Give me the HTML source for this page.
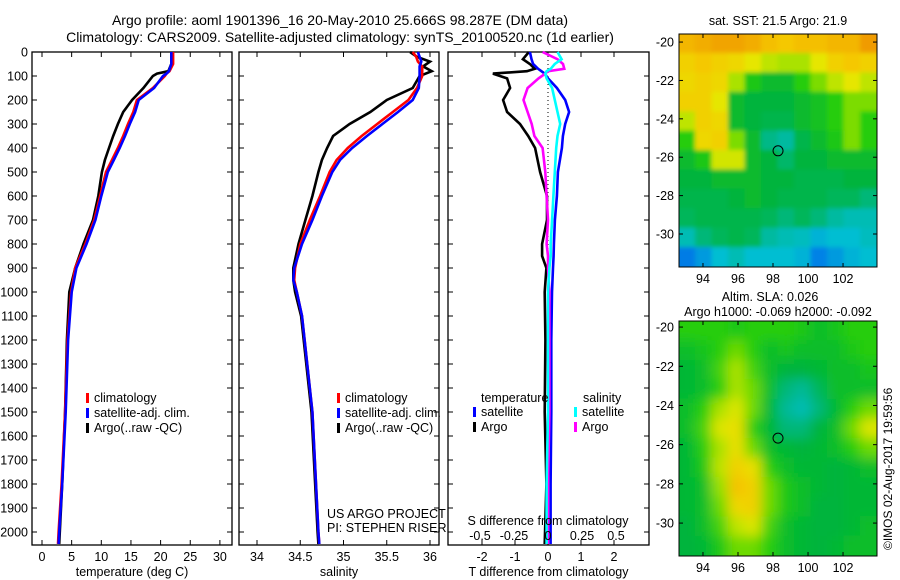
<!DOCTYPE html>
<html><head><meta charset="utf-8"><style>
html,body{margin:0;padding:0;background:#fff;}
svg{display:block;font-family:"Liberation Sans",Arial,sans-serif;}
</style></head><body>
<svg id="fig" width="900" height="580" viewBox="0 0 900 580" xmlns="http://www.w3.org/2000/svg">
<defs>
<filter id="blur" filterUnits="userSpaceOnUse" x="600" y="250" width="300" height="330"><feGaussianBlur stdDeviation="6"/></filter>
<filter id="blur2" filterUnits="userSpaceOnUse" x="600" y="0" width="300" height="300"><feGaussianBlur stdDeviation="2"/></filter>
<clipPath id="c1"><rect x="679" y="34" width="198" height="233"/></clipPath>
<clipPath id="c2"><rect x="679" y="321" width="198" height="235"/></clipPath>
</defs>
<text x="340" y="25" font-size="14" text-anchor="middle">Argo profile: aoml 1901396_16 20-May-2010 25.666S 98.287E (DM data)</text>
<text x="340" y="42" font-size="14" text-anchor="middle">Climatology: CARS2009. Satellite-adjusted climatology: synTS_20100520.nc (1d earlier)</text>
<g id="g1"></g>
<g id="g2"></g>
<g id="g3"></g>
<g id="g4"></g>
<g id="g5"></g>
<text transform="translate(892,550) rotate(-90)" font-size="12">©IMOS 02-Aug-2017 19:59:56</text>
</svg>
<script>
// ---- profile data ----
const tDepth = [0,50,80,90,100,150,200,250,300,350,400,450,500,600,700,800,900,1000,1100,1200,1500,1800,2000,2050];
const tClim  = [22.1,22.1,21.5,21.0,20.7,18.7,16.0,15.4,14.5,13.7,12.8,11.8,10.8,9.8,8.8,7.3,5.6,4.9,4.6,4.3,3.9,3.3,2.8,2.7];
const tSat   = [21.8,21.8,21.4,21.0,20.4,18.9,16.3,15.7,14.8,14.0,13.1,12.1,11.1,10.0,9.0,7.5,5.8,5.0,4.7,4.4,4.0,3.4,2.9,2.8];
const tArgo  = [21.8,21.8,21.3,19.4,18.7,17.1,15.2,13.7,12.8,12.0,11.3,10.6,10.1,9.5,8.6,7.0,5.6,4.6,4.4,4.2,3.9,3.4,3.0,2.9];
const sDepth = [0,20,40,60,80,100,150,200,250,300,350,400,450,500,600,700,800,900,950,1000,1100,1500,2000,2050];
const sClim  = [35.80,35.84,35.86,35.91,35.91,35.91,35.85,35.75,35.57,35.39,35.21,35.05,34.92,34.84,34.73,34.61,34.50,34.44,34.43,34.46,34.52,34.64,34.71,34.72];
const sSat   = [35.86,35.88,35.90,35.88,35.88,35.88,35.87,35.80,35.63,35.45,35.27,35.10,34.96,34.87,34.75,34.64,34.52,34.43,34.42,34.46,34.52,34.64,34.71,34.72];
const sArgo  = [35.77,35.85,36.00,35.92,36.02,35.88,35.80,35.50,35.31,35.07,34.88,34.81,34.75,34.71,34.64,34.56,34.48,34.42,34.42,34.44,34.51,34.63,34.70,34.71];
const dDepth = [0,30,50,70,80,90,110,150,200,250,300,350,400,500,600,700,800,850,900,1000,1200,1500,1800,2050];
const dTArgo = [-0.58,-0.76,-0.55,-0.4,-0.64,-1.67,-1.24,-1.15,-1.36,-1.24,-0.85,-0.6,-0.39,-0.24,-0.03,-0.03,-0.18,-0.18,-0.05,-0.1,-0.08,-0.1,-0.05,-0.1];
const dTSat  = [-0.55,-0.5,-0.45,-0.3,-0.2,-0.1,0.0,0.27,0.52,0.64,0.52,0.45,0.42,0.3,0.27,0.21,0.18,0.17,0.15,0.12,0.1,0.1,0.08,0.08];
const dSArgo = [-0.04,0.07,0.11,0.12,0.0,-0.02,-0.07,-0.15,-0.18,-0.15,-0.12,-0.1,-0.04,-0.02,-0.01,0.0,-0.01,0.0,0.0,0.01,0.01,0.01,0.0,0.0];
const dSSat  = [0.07,0.1,0.05,0.02,-0.01,-0.02,-0.01,0.03,0.05,0.07,0.09,0.07,0.06,0.05,0.04,0.03,0.02,0.02,0.01,0.0,0.0,0.0,-0.01,-0.01];
const depthTicks = [0,100,200,300,400,500,600,700,800,900,1000,1100,1200,1300,1400,1500,1600,1700,1800,1900,2000];
const tTicks = [0,5,10,15,20,25,30];
const sTicks = [34,34.5,35,35.5,36];
const dTTicks = [-2,-1,0,1,2];
const dSTicks = [-0.5,-0.25,0,0.25,0.5];
// ---- map data (normalized colour index) ----
const sstGrid = [
[0.78,0.8,0.82,0.82,0.8,0.76,0.74,0.76,0.76,0.78,0.78,0.84],
[0.72,0.74,0.72,0.7,0.66,0.62,0.6,0.6,0.66,0.72,0.74,0.72],
[0.7,0.72,0.7,0.6,0.48,0.44,0.44,0.5,0.56,0.62,0.66,0.62],
[0.72,0.72,0.66,0.44,0.42,0.42,0.42,0.44,0.46,0.5,0.56,0.56],
[0.62,0.72,0.7,0.44,0.42,0.41,0.41,0.44,0.46,0.5,0.56,0.5],
[0.5,0.7,0.72,0.56,0.44,0.37,0.35,0.41,0.44,0.48,0.56,0.5],
[0.44,0.48,0.64,0.64,0.44,0.42,0.39,0.42,0.42,0.44,0.44,0.44],
[0.42,0.42,0.44,0.44,0.44,0.42,0.42,0.41,0.41,0.41,0.42,0.42],
[0.41,0.41,0.41,0.42,0.44,0.42,0.41,0.41,0.41,0.4,0.4,0.38],
[0.4,0.41,0.41,0.41,0.41,0.4,0.38,0.4,0.38,0.35,0.33,0.33],
[0.33,0.38,0.4,0.41,0.4,0.35,0.33,0.32,0.28,0.3,0.3,0.32],
[0.18,0.24,0.3,0.33,0.3,0.3,0.3,0.28,0.2,0.24,0.28,0.3]];
const slaGrid = [
[0.5,0.5,0.5,0.48,0.5,0.5,0.5,0.48,0.45,0.47,0.5,0.5],
[0.45,0.47,0.5,0.55,0.5,0.45,0.47,0.45,0.45,0.45,0.48,0.5],
[0.43,0.45,0.52,0.6,0.52,0.45,0.42,0.42,0.43,0.45,0.45,0.47],
[0.43,0.45,0.5,0.6,0.55,0.45,0.38,0.36,0.4,0.45,0.45,0.45],
[0.45,0.5,0.6,0.65,0.55,0.43,0.36,0.33,0.38,0.43,0.5,0.55],
[0.45,0.52,0.65,0.68,0.5,0.43,0.38,0.38,0.42,0.45,0.55,0.65],
[0.43,0.5,0.6,0.68,0.55,0.45,0.43,0.42,0.43,0.45,0.5,0.55],
[0.43,0.48,0.62,0.72,0.68,0.5,0.45,0.43,0.43,0.42,0.43,0.45],
[0.43,0.45,0.58,0.75,0.72,0.55,0.48,0.45,0.43,0.42,0.43,0.43],
[0.43,0.45,0.55,0.7,0.72,0.55,0.48,0.45,0.42,0.42,0.43,0.43],
[0.42,0.45,0.52,0.62,0.65,0.52,0.45,0.43,0.42,0.42,0.43,0.45],
[0.42,0.43,0.48,0.55,0.55,0.5,0.45,0.43,0.42,0.43,0.45,0.45]];
const lonTicks = [94,96,98,100,102];
const latTicks = [-20,-22,-24,-26,-28,-30];
const argoLon = 98.287, argoLat = -25.666;

const NS='http://www.w3.org/2000/svg';
function mk(parent,tag,attrs,txt){const e=document.createElementNS(NS,tag);for(const k in attrs)e.setAttribute(k,attrs[k]);if(txt!==undefined)e.textContent=txt;parent.appendChild(e);return e;}
const yD = d => 52 + d*0.24;
const PB = 545;

function panel(g,x0,x1,xs,xTicks,xTitle,withDepthLabels){
  const r=mk(g,'rect',{x:x0,y:52,width:x1-x0,height:PB-52,fill:'none',stroke:'#000','stroke-width':1.3});
  
  
  depthTicks.forEach(d=>{
    const y=yD(d);
    mk(g,'line',{x1:x0,x2:x0+5,y1:y,y2:y,stroke:'#000'});
    mk(g,'line',{x1:x1,x2:x1-5,y1:y,y2:y,stroke:'#000'});
    if(withDepthLabels){
      const t=mk(g,'text',{x:x0-4,y:y+4.5,'font-size':12.5,'text-anchor':'end'},String(d));
      
      
    }
  });
  xTicks.forEach(v=>{
    const x=xs(v);
    mk(g,'line',{x1:x,x2:x,y1:52,y2:57,stroke:'#000'});
    mk(g,'line',{x1:x,x2:x,y1:PB,y2:PB-5,stroke:'#000'});
    const t=mk(g,'text',{x:x,y:561,'font-size':12.5,'text-anchor':'middle'},String(v));
    
    
  });
  const tt=mk(g,'text',{x:(x0+x1)/2,y:576,'font-size':12.5,'text-anchor':'middle'},xTitle);
  
  
}
function line(g,depths,vals,xs,color,name){
  const pts=depths.map((d,i)=>xs(vals[i]).toFixed(1)+','+yD(d).toFixed(1)).join(' ');
  const p=mk(g,'polyline',{points:pts,fill:'none',stroke:color,'stroke-width':2.6,'stroke-linejoin':'miter'});
  
  
}
function legend(g,x,y,color,label){
  mk(g,'rect',{x:x,y:y-9,width:3,height:10,fill:color});
  const t=mk(g,'text',{x:x+8,y:y,'font-size':12.5},label);
  
  
}
// temperature
const g1=document.getElementById('g1');
const xT=v=>42+v*5.93;
panel(g1,32,232,xT,tTicks,'temperature (deg C)',true);
line(g1,tDepth,tArgo,xT,'#000','argo-temperature-line');
line(g1,tDepth,tClim,xT,'#f00','clim-temperature-line');
line(g1,tDepth,tSat,xT,'#00f','sat-temperature-line');
legend(g1,86,402,'#f00','climatology');
legend(g1,86,417,'#00f','satellite-adj. clim.');
legend(g1,86,432,'#000','Argo(..raw -QC)');
// salinity
const g2=document.getElementById('g2');
const xS=v=>257+(v-34)*86.5;
panel(g2,239,439,xS,sTicks,'salinity',false);
line(g2,sDepth,sArgo,xS,'#000','argo-salinity-line');
line(g2,sDepth,sClim,xS,'#f00','clim-salinity-line');
line(g2,sDepth,sSat,xS,'#00f','sat-salinity-line');
legend(g2,337,402,'#f00','climatology');
legend(g2,337,417,'#00f','satellite-adj. clim.');
legend(g2,337,432,'#000','Argo(..raw -QC)');
let t=mk(g2,'text',{x:327,y:518,'font-size':12.5},'US ARGO PROJECT');


t=mk(g2,'text',{x:327,y:532,'font-size':12.5},'PI: STEPHEN RISER');


// differences
const g3=document.getElementById('g3');
const xDT=v=>548+v*33;
const xDS=v=>548+v*136;
panel(g3,448,649,xDT,dTTicks,'T difference from climatology',false);
mk(g3,'line',{x1:548,x2:548,y1:52,y2:PB,stroke:'#000','stroke-dasharray':'1,3'});
line(g3,dDepth,dTArgo,xDT,'#000','argo-t-diff-line');
line(g3,dDepth,dTSat,xDT,'#00f','sat-t-diff-line');
line(g3,dDepth,dSArgo,xDS,'#f0f','argo-s-diff-line');
line(g3,dDepth,dSSat,xDS,'#0ff','sat-s-diff-line');
dSTicks.forEach(v=>{const tx=mk(g3,'text',{x:xDS(v),y:540,'font-size':12.5,'text-anchor':'middle'},String(v));

});
t=mk(g3,'text',{x:548,y:525,'font-size':12.5,'text-anchor':'middle'},'S difference from climatology');


t=mk(g3,'text',{x:481,y:402,'font-size':12.5},'temperature');


t=mk(g3,'text',{x:583,y:402,'font-size':12.5},'salinity');


legend(g3,473,416,'#00f','satellite');
legend(g3,473,431,'#000','Argo');
legend(g3,574,416,'#0ff','satellite');
legend(g3,574,431,'#f0f','Argo');
// maps
const stops=[[0,[0,60,220]],[0.2,[0,130,230]],[0.3,[0,190,210]],[0.36,[0,185,150]],[0.42,[0,180,60]],[0.5,[40,205,10]],[0.58,[150,225,0]],[0.66,[230,230,0]],[0.74,[245,200,0]],[0.85,[240,150,0]],[1,[230,100,0]]];
function cmap(v){for(let i=1;i<stops.length;i++){if(v<=stops[i][0]){const a=stops[i-1],b=stops[i],f=(v-a[0])/(b[0]-a[0]);const c=a[1].map((q,k)=>Math.round(q+(b[1][k]-q)*f));return 'rgb('+c.join(',')+')';}}return 'rgb(230,100,0)';}
function map(g,grid,x0,y0,w,h,lonL,lonR,latT,latB,clip,filt){
  const lx=v=>x0+(v-lonL)/(lonR-lonL)*w, ly=v=>y0+(latT-v)/(latT-latB)*h;
  const cg=mk(g,'g',{'clip-path':'url(#'+clip+')'});
  const inner=mk(cg,'g',{filter:'url(#'+filt+')'});
  const nr=grid.length,nc=grid[0].length;
  const cw=w/nc,ch=h/nr,pad=20;
  grid.forEach((row,r)=>row.forEach((v,c)=>{
    let x=x0+c*cw-0.5,y=y0+r*ch-0.5,ww=cw+1,hh=ch+1;
    if(c===0){x-=pad;ww+=pad;} if(c===nc-1){ww+=pad;}
    if(r===0){y-=pad;hh+=pad;} if(r===nr-1){hh+=pad;}
    const cell=mk(inner,'rect',{x:x.toFixed(1),y:y.toFixed(1),width:ww.toFixed(1),height:hh.toFixed(1),fill:cmap(v)});
    
    
  }));
  const fr=mk(g,'rect',{x:x0,y:y0,width:w,height:h,fill:'none',stroke:'#000','stroke-width':1});
  
  
  lonTicks.forEach(v=>{const x=lx(v);mk(g,'line',{x1:x,x2:x,y1:y0,y2:y0+4,stroke:'#000'});mk(g,'line',{x1:x,x2:x,y1:y0+h,y2:y0+h-4,stroke:'#000'});
    const tx=mk(g,'text',{x:x,y:y0+h+16,'font-size':12.5,'text-anchor':'middle'},String(v));
    
    });
  latTicks.forEach(v=>{const y=ly(v);mk(g,'line',{x1:x0,x2:x0+4,y1:y,y2:y,stroke:'#000'});mk(g,'line',{x1:x0+w,x2:x0+w-4,y1:y,y2:y,stroke:'#000'});
    const tx=mk(g,'text',{x:x0-5,y:y+4.5,'font-size':12.5,'text-anchor':'end'},String(v));
    
    });
  const c=mk(g,'circle',{cx:lx(argoLon),cy:ly(argoLat),r:5,fill:'none',stroke:'#000','stroke-width':1});
  
  
}
const g4=document.getElementById('g4'), g5=document.getElementById('g5');
map(g4,sstGrid,679,34,198,233,92.63,103.94,-19.58,-31.72,'c1','blur2');
map(g5,slaGrid,679,321,198,235,92.63,103.94,-19.69,-31.68,'c2','blur');
t=mk(g4,'text',{x:778,y:25,'font-size':12.5,'text-anchor':'middle'},'sat. SST: 21.5 Argo: 21.9');


t=mk(g5,'text',{x:770,y:301,'font-size':12.5,'text-anchor':'middle'},'Altim. SLA: 0.026');


t=mk(g5,'text',{x:778,y:316,'font-size':12.5,'text-anchor':'middle'},'Argo h1000: -0.069 h2000: -0.092');


</script>
</body></html>
